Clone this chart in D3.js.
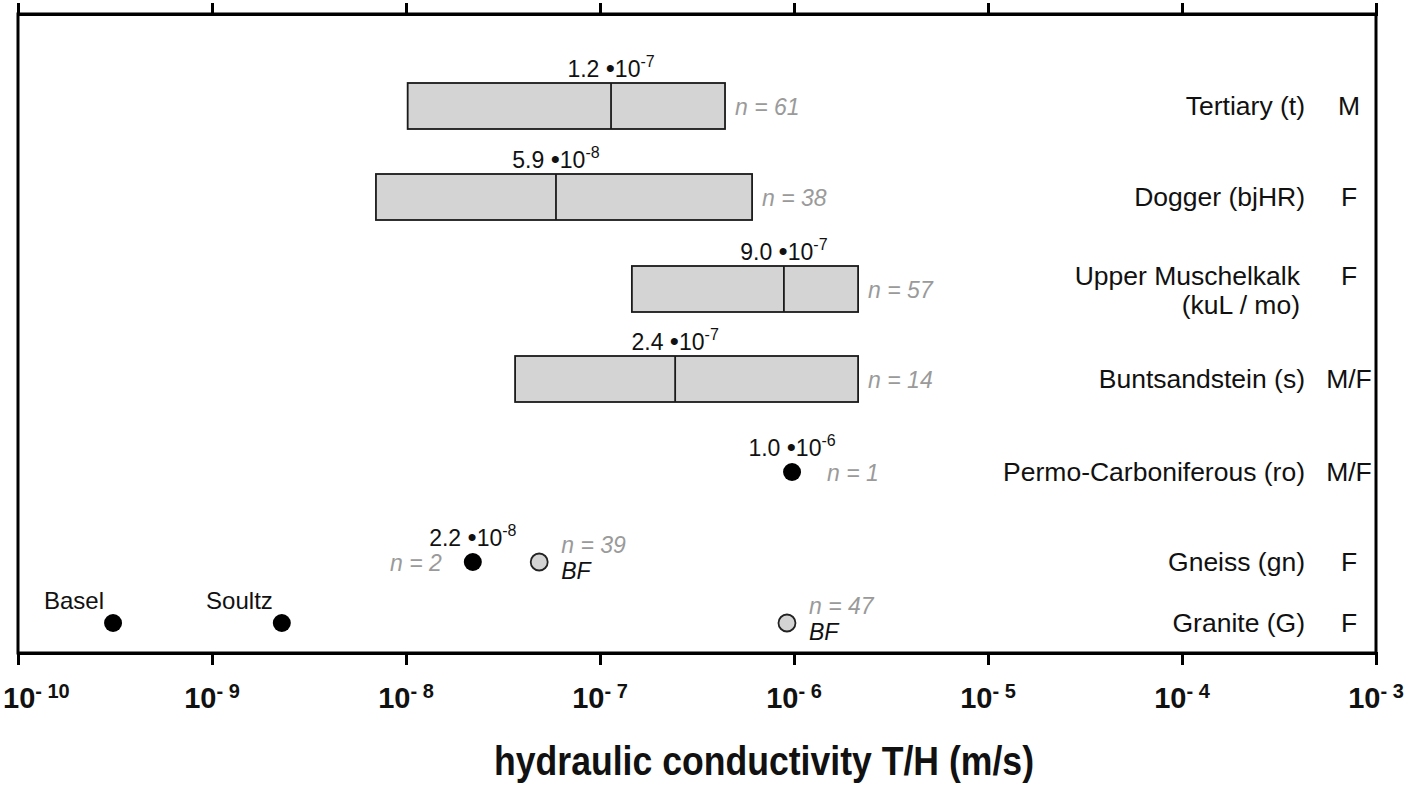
<!DOCTYPE html>
<html>
<head>
<meta charset="utf-8">
<script src="https://cdn.jsdelivr.net/npm/d3@7"></script>
<style>
  body { margin: 0; background: #fff; }
  svg { display: block; }
  text { font-family: "Liberation Sans", Arial, sans-serif; }
</style>
</head>
<body>
<svg id="chart" width="1416" height="787"></svg>
<script>
// formations, top to bottom
const formations = [
  "Tertiary (t)",
  "Dogger (bjHR)",
  "Upper Muschelkalk\n(kuL / mo)",
  "Buntsandstein (s)",
  "Permo-Carboniferous (ro)",
  "Gneiss (gn)",
  "Granite (G)",
];
const flowType = ["M", "F", "F", "M/F", "M/F", "F", "F"];

// box rows (range of T/H values, median)
const boxFormation = [0, 1, 2, 3];
const boxLow = [1.02e-8, 7.0e-9, 1.46e-7, 3.65e-8];
const boxHigh = [4.41e-7, 6.08e-7, 2.14e-6, 2.14e-6];
const boxMedian = [1.14e-7, 5.93e-8, 8.87e-7, 2.44e-7];
const boxN = [61, 38, 57, 14];
const boxMantissa = ["1.2", "5.9", "9.0", "2.4"];
const boxExponent = ["-7", "-8", "-7", "-7"];

// single values
const pointFormation = [4, 5, 5, 6, 6, 6];
const pointValue = [9.77e-7, 2.21e-8, 4.86e-8, 3.09e-10, 2.29e-9, 9.2e-7];
const pointKind = ["mean", "mean", "BF", "site", "site", "BF"];
const pointN = [1, 2, 39, null, null, 47];
const pointSite = [null, null, null, "Basel", "Soultz", null];
const pointMantissa = ["1.0", "2.2", null, null, null, null];
const pointExponent = ["-6", "-8", null, null, null, null];
const pointNSide = ["right", "left", "right", null, null, "right"];

const tickExponents = [-10, -9, -8, -7, -6, -5, -4, -3];
const axisTitle = "hydraulic conductivity T/H (m/s)";

const svg = d3.select("#chart");
const plotLeft = 18, plotRight = 1376, plotTop = 14, plotBottom = 653;

const x = d3.scaleLog().domain([1e-10, 1e-3]).range([plotLeft, plotRight]);
const y = d3.scaleOrdinal()
  .domain(d3.range(formations.length))
  .range([106, 197, 289, 379, 472, 562, 623]);

const tickValues = tickExponents.map((e) => Math.pow(10, e));

// frame
svg.append("rect")
  .attr("x", plotLeft).attr("y", plotTop)
  .attr("width", plotRight - plotLeft).attr("height", plotBottom - plotTop)
  .attr("fill", "none").attr("stroke", "#000").attr("stroke-width", 3);

// axes (ticks only, labels drawn separately)
const topAxis = svg.append("g")
  .attr("transform", `translate(0,${plotTop})`)
  .call(d3.axisTop(x).tickValues(tickValues).tickSize(11).tickFormat(""));
const bottomAxis = svg.append("g")
  .attr("transform", `translate(0,${plotBottom})`)
  .call(d3.axisBottom(x).tickValues(tickValues).tickSize(12).tickFormat(""));
[topAxis, bottomAxis].forEach((g) => {
  g.select(".domain").attr("stroke", "#000").attr("stroke-width", 3);
  g.selectAll(".tick line").attr("stroke", "#000").attr("stroke-width", 3);
});

// tick labels 10^-n
const tickLabels = svg.append("g")
  .selectAll("text")
  .data(tickExponents)
  .join("text")
  .attr("x", (d) => x(Math.pow(10, d)))
  .attr("y", 708)
  .attr("text-anchor", "middle")
  .attr("font-weight", "bold")
  .attr("font-size", 29)
  .attr("fill", "#111");
tickLabels.append("tspan").text("10");
tickLabels.append("tspan")
  .attr("dy", -10)
  .attr("font-size", 20)
  .text((d) => "- " + Math.abs(d));
// keep the first label inside the page
tickLabels.each(function () {
  const b = this.getBBox();
  if (b.x < 3) d3.select(this).attr("x", +d3.select(this).attr("x") + (3 - b.x));
});

// axis title (condensed bold)
svg.append("text")
  .attr("x", 764)
  .attr("y", 775)
  .attr("text-anchor", "middle")
  .attr("font-weight", "bold")
  .attr("font-size", 40)
  .attr("textLength", 540)
  .attr("lengthAdjust", "spacingAndGlyphs")
  .attr("fill", "#111")
  .text(axisTitle);

// formation names and flow type
const names = svg.append("g")
  .selectAll("text")
  .data(formations)
  .join("text")
  .attr("text-anchor", "end")
  .attr("font-size", 26.5)
  .attr("fill", "#111");
names.each(function (d, i) {
  const lines = d.split("\n");
  const el = d3.select(this);
  const x0 = lines.length > 1 ? 1300 : 1305;
  lines.forEach((line, k) => {
    el.append("tspan")
      .attr("x", x0)
      .attr("y", y(i) + 9 + (lines.length > 1 ? -13 + k * 29 : 0))
      .text(line);
  });
});

svg.append("g")
  .selectAll("text")
  .data(flowType)
  .join("text")
  .attr("x", 1349)
  .attr("y", (d, i) => y(i) + 9 + (formations[i].includes("\n") ? -13 : 0))
  .attr("text-anchor", "middle")
  .attr("font-size", 26.5)
  .attr("fill", "#111")
  .text((d) => d);

// value label like "1.2 •10^-7"
function valueLabel(g, cx, by, mantissa, exponent) {
  const t = g.append("text")
    .attr("x", cx).attr("y", by)
    .attr("text-anchor", "middle")
    .attr("font-size", 23)
    .attr("fill", "#111");
  t.append("tspan").text(mantissa + " ");
  t.append("tspan").attr("font-size", 26).text("\u2022");
  t.append("tspan").text("10");
  t.append("tspan").attr("dy", -10).attr("font-size", 16).text(exponent);
}

function nLabel(g, px, by, anchor, n) {
  g.append("text")
    .attr("x", px).attr("y", by)
    .attr("text-anchor", anchor)
    .attr("font-size", 23)
    .attr("font-style", "italic")
    .attr("fill", "#9a9a9a")
    .text("n = " + n);
}

// boxes
const boxH = 46;
const boxes = svg.append("g");
boxFormation.forEach((f, i) => {
  const cy = y(f);
  boxes.append("rect")
    .attr("x", x(boxLow[i]))
    .attr("y", cy - boxH / 2)
    .attr("width", x(boxHigh[i]) - x(boxLow[i]))
    .attr("height", boxH)
    .attr("fill", "#d4d4d4")
    .attr("stroke", "#1a1a1a")
    .attr("stroke-width", 1.8);
  boxes.append("line")
    .attr("x1", x(boxMedian[i])).attr("x2", x(boxMedian[i]))
    .attr("y1", cy - boxH / 2).attr("y2", cy + boxH / 2)
    .attr("stroke", "#1a1a1a").attr("stroke-width", 1.8);
  valueLabel(boxes, x(boxMedian[i]), cy - boxH / 2 - 6, boxMantissa[i], boxExponent[i]);
  nLabel(boxes, x(boxHigh[i]) + 10, cy + 9, "start", boxN[i]);
});

// points
const points = svg.append("g");
pointValue.forEach((v, i) => {
  const cx = x(v), cy = y(pointFormation[i]);
  const kind = pointKind[i];
  if (kind === "BF") {
    points.append("circle")
      .attr("cx", cx).attr("cy", cy).attr("r", 8.5)
      .attr("fill", "#d4d4d4").attr("stroke", "#222").attr("stroke-width", 1.8);
    nLabel(points, cx + 22, cy - 9, "start", pointN[i]);
    points.append("text")
      .attr("x", cx + 22).attr("y", cy + 17)
      .attr("font-size", 23)
      .attr("font-style", "italic")
      .attr("fill", "#111")
      .text("BF");
  } else {
    points.append("circle")
      .attr("cx", cx).attr("cy", cy).attr("r", 9)
      .attr("fill", "#000");
    if (kind === "site") {
      points.append("text")
        .attr("x", cx - 9).attr("y", cy - 14)
        .attr("text-anchor", "end")
        .attr("font-size", 24)
        .attr("fill", "#111")
        .text(pointSite[i]);
    } else {
      valueLabel(points, cx, cy - 16, pointMantissa[i], pointExponent[i]);
      const side = pointNSide[i];
      nLabel(points, side === "right" ? cx + 35 : cx - 31, cy + 9,
        side === "right" ? "start" : "end", pointN[i]);
    }
  }
});
</script>
</body>
</html>
